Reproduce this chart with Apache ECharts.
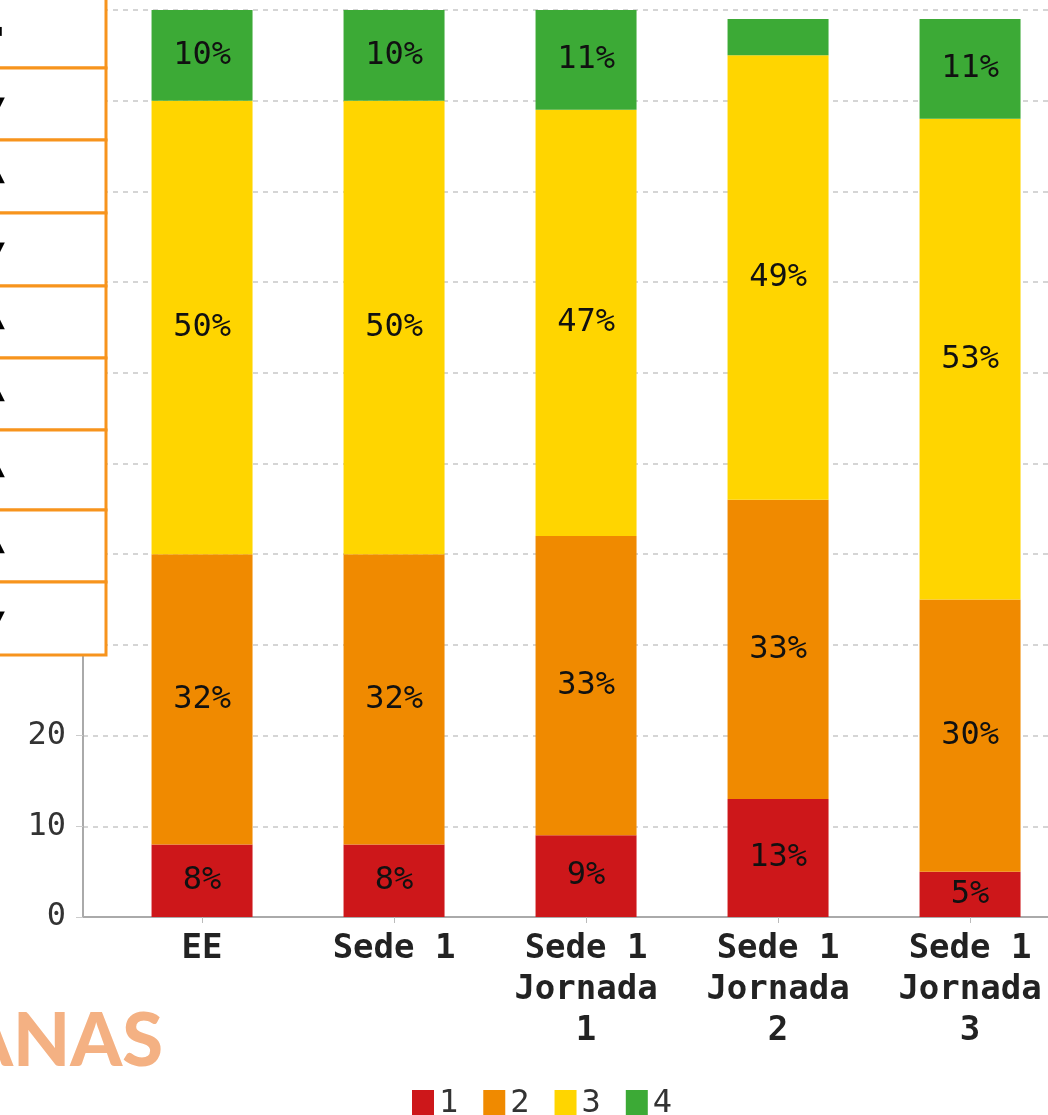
<!DOCTYPE html>
<html>
<head>
<meta charset="utf-8">
<title>Niveles por sede y jornada</title>
<script src="https://cdn.jsdelivr.net/npm/echarts@6/dist/echarts.min.js"></script>
<style>
	html, body { margin: 0; padding: 0; background: #fff; }
	#chart { width: 1048px; height: 1115px; }
</style>
</head>
<body>
<div id="chart"></div>
<script>
// categorias (eje x)
var categorias = ['EE', 'Sede 1', 'Sede 1\nJornada\n1', 'Sede 1\nJornada\n2', 'Sede 1\nJornada\n3']
var niveles = ['1', '2', '3', '4']

// porcentajes por nivel
var nivel1 = [8, 8, 9, 13, 5]
var nivel2 = [32, 32, 33, 33, 30]
var nivel3 = [50, 50, 47, 49, 53]
var nivel4 = [10, 10, 11, 4, 11]

var yTicks = [0, 10, 20, 30, 40, 50, 60, 70, 80, 90, 100]

var colores = ['#cd171a', '#f08a00', '#ffd500', '#3caa36']
var mono = 'DejaVu Sans Mono'

var chart = echarts.init(document.getElementById('chart'))

// posiciones de categoria sobre un eje de valores
var idx = categorias.map(function(c, i) { return i })

function serie(nombre, datos, color) {
	return {
		name: nombre,
		type: 'bar',
		stack: 'total',
		barWidth: 101,
		// valor primero para que el apilado sea sobre y
		encode: { x: 1, y: 0 },
		itemStyle: { color: color },
		label: {
			show: true,
			position: 'inside',
			fontFamily: mono,
			fontSize: 32,
			color: '#111',
			formatter: function(p) {
				// el 4% de Jornada 2 no se rotula en el original
				return p.value[0] < 5 ? '' : p.value[0] + '%'
			}
		},
		data: datos.map(function(v, i) { return [v, idx[i]] })
	}
}

// tabla superpuesta a la izquierda
var filas = [-5, 68, 140, 213, 286, 358, 430, 510, 582, 655]
var flechas = ['▪', '▼', '▲', '▼', '▲', '▲', '▲', '▲', '▼']
var tabla = []
for (var i = 0; i < filas.length - 1; i++) {
	tabla.push({
		type: 'rect',
		z: 100,
		shape: { x: -20, y: filas[i], width: 126, height: filas[i+1] - filas[i] },
		style: { fill: '#fff', stroke: '#f7941d', lineWidth: 3 }
	})
	tabla.push({
		type: 'text',
		z: 101,
		x: -9,
		y: (filas[i] + filas[i+1]) / 2,
		style: { text: flechas[i], fill: '#000', font: 'bold 18px DejaVu Sans', verticalAlign: 'middle' }
	})
}
tabla.push({
	type: 'text',
	z: 100,
	x: 163,
	y: 1079,
	style: {
		text: 'ANAS',
		fill: '#f4b183',
		font: '900 74px Lato',
		textAlign: 'right',
		textVerticalAlign: 'bottom'
	}
})

var option = {
	animation: false,
	backgroundColor: '#fff',
	grid: { left: 83, right: 0, top: 10, bottom: 198, outerBoundsMode: 'none' },
	legend: {
		left: 407,
		top: 1083,
		icon: 'rect',
		itemWidth: 22,
		itemHeight: 28,
		itemGap: 25,
		textStyle: { fontFamily: mono, fontSize: 32, color: '#333' },
		data: niveles
	},
	xAxis: {
		type: 'value',
		min: -0.62,
		max: 4.406,
		splitLine: { show: false },
		axisLine: { show: true, onZero: false, lineStyle: { color: '#aaa', width: 2 } },
		axisTick: {
			show: true,
			customValues: idx,
			length: 6,
			lineStyle: { color: '#bbb' }
		},
		axisLabel: {
			customValues: idx,
			margin: 12,
			fontFamily: mono,
			fontWeight: 'bold',
			fontSize: 34,
			lineHeight: 41,
			color: '#222',
			formatter: function(v) { return categorias[Math.round(v)] }
		}
	},
	yAxis: {
		type: 'value',
		min: 0,
		max: 100,
		interval: 10,
		axisLine: { show: true, onZero: false, lineStyle: { color: '#aaa', width: 2 } },
		axisTick: { show: true, length: 7, lineStyle: { color: '#ccc' } },
		axisLabel: {
			margin: 17,
			fontFamily: mono,
			fontSize: 32,
			color: '#333',
			customValues: yTicks
		},
		splitLine: {
			show: true,
			lineStyle: { color: '#c8c8c8', type: [5, 5], width: 1.5 }
		}
	},
	series: [
		serie('1', nivel1, colores[0]),
		serie('2', nivel2, colores[1]),
		serie('3', nivel3, colores[2]),
		serie('4', nivel4, colores[3])
	],
	graphic: tabla
}

chart.setOption(option)
</script>
</body>
</html>
